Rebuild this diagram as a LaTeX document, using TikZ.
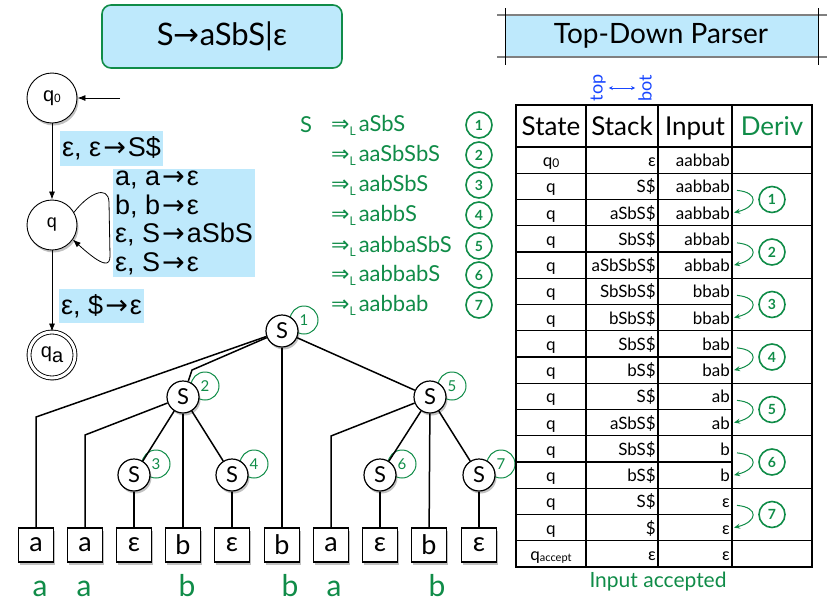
\documentclass[tikz,border=0pt]{standalone}
\usepackage{fontspec}
\setmainfont{Lato}
\newfontfamily\hel{Liberation Sans}
\newfontfamily\sym{DejaVu Sans}
\usetikzlibrary{arrows.meta,shadows}
\definecolor{grn}{RGB}{16,140,72}
\definecolor{lblue}{RGB}{190,233,252}
\definecolor{tblue}{RGB}{25,70,255}
\newcommand{\fs}[1]{\fontsize{#1}{#1}\selectfont}
\newcommand{\dL}{{\sym ⇒}\raisebox{-4pt}{\fs{12}L}\hspace{3pt}}
\newcommand{\qz}{q\raisebox{-1pt}{\fs{12}0}}
\newcommand{\qacc}{q\raisebox{-1pt}{\fs{11}accept}}
\newcommand{\ar}{\hspace{2pt}{\sym →}\hspace{2pt}}
\begin{document}
\begin{tikzpicture}[x=1pt,y=-1pt,
  every node/.style={inner sep=0pt},
  shad/.style={drop shadow={shadow xshift=1.5pt,shadow yshift=-2.5pt,opacity=0.35,fill=black!70}},
  pstate/.style={circle,draw,line width=0.9pt,fill=white,minimum size=50pt,shad,font=\hel\fs{20}},
  parr/.style={-{Latex[length=8pt,width=6pt]},line width=0.8pt},
  plabel/.style={fill=lblue,inner sep=2pt,font=\hel\fs{27},align=left},
  snode/.style={circle,draw,line width=1.2pt,fill=white,minimum size=32pt,shad,font=\fs{22}},
  leaf/.style={draw,line width=1.2pt,fill=white,minimum width=35pt,minimum height=34pt,shad,font=\fs{27}},
  tedge/.style={line width=1.5pt},
  tnum/.style={circle,draw=grn,line width=1pt,minimum size=28pt,text=grn,font=\fs{15}},
  dnum/.style={circle,draw=grn,line width=1.6pt,minimum size=26pt,text=grn,font=\bfseries\fs{14}},
  dline/.style={anchor=west,text=grn,font=\fs{22}},
  tline/.style={line width=1.4pt},
  tcell/.style={font=\fs{17}},
  thead/.style={anchor=base,font=\fs{26}},
  darr/.style={grn,line width=1pt,-{Stealth[length=6pt,width=5pt]}}
]
\useasboundingbox (0,0) rectangle (828,603);

% title
\node[draw=grn,fill=lblue,rounded corners=9pt,line width=1.6pt,minimum width=240pt,minimum height=63pt,font=\fs{31}] (title) at (222,36.5) {S{\sym →}aSbS|ε};

% Top-Down Parser banner
\fill[lblue] (505,15) rectangle (818,57);
\draw[gray,line width=1.5pt] (497,15) -- (827,15) (497,57) -- (827,57);
\draw[line width=1pt] (505,8) -- (505,65) (818,8) -- (818,65);
\node[font=\fs{28}] (tdp) at (661,36) {Top-Down Parser};

% top <-> bot
\node[rotate=90,text=tblue,font=\fs{18}] (top) at (598,88) {top};
\node[rotate=90,text=tblue,font=\fs{18}] (bot) at (645,88) {bot};
\draw[tblue,line width=0.8pt,{Stealth[length=4pt,width=4pt]}-{Stealth[length=4pt,width=4pt]}] ([xshift=3pt]top.south) -- ([xshift=-3pt]bot.north);

% PDA
\node[pstate] (q0) at (52,98) {\qz};
\node[pstate,font=\hel\fs{18}] (q) at (52,225) {q};
\node[pstate,double,double distance=3pt,minimum size=46pt] (qa) at (52,355) {q\raisebox{-5pt}{\fs{20}a}};
\coordinate (st) at (120,98);
\draw[parr] (st) -- (q0);
\draw[parr] (q0) -- (q);
\draw[parr] (q) -- (qa);
\draw[parr] (q.30) .. controls (88,194) and (108,184) .. (109,202) -- (110,256) .. controls (110,266) and (104,268) .. (q.-35);
\node[plabel,anchor=west,minimum height=35pt] (l1) at (60,148.5) {ε, ε\ar S\$};
\node[plabel,anchor=north west,font=\hel\fontsize{27}{28.5}\selectfont] (l2) at (113,169) {a, a\ar ε\\b, b\ar ε\\ε, S\ar aSbS\\ε, S\ar ε};
\node[plabel,anchor=west,minimum height=34pt] (l3) at (59,306) {ε, \$\ar ε};

% derivation list
\node[dline] (d0) at (300,125) {S};
\foreach \t/\y [count=\i] in {aSbS/125,aaSbSbS/155,aabSbS/185,aabbS/215,aabbaSbS/246,aabbabS/275,aabbab/305}{
  \node[dline] (d\i) at (331,\y) {\dL\t};
  \node[dnum] (dc\i) at (479,\y) {\i};
}

% parse tree: number circles first
\foreach \x/\y/\k in {304/320/1,205/386/2,452/386/5,156/464/3,254/464/4,402/464/6,501/464/7}
  \node[tnum] (tn\k) at (\x,\y) {\k};
\node[snode] (r) at (282,331) {S};
\node[snode] (s2) at (183,397) {S};
\node[snode] (s5) at (430,397) {S};
\node[snode] (s3) at (134,475) {S};
\node[snode] (s4) at (232,475) {S};
\node[snode] (s6) at (380,475) {S};
\node[snode] (s7) at (479,475) {S};
\foreach \x/\t [count=\i] in {36/a,85/a,134/ε,183/b,232/ε,282/b,331/a,380/ε,429/b,479/ε}
  \node[leaf] (lf\i) at (\x,545) {\t};
\coordinate (b1) at (36,417);
\coordinate (b2) at (85,435);
\coordinate (b3) at (192,370);
\coordinate (b4) at (331,436);
\draw[tedge] (r) -- (b1) -- (lf1);
\draw[tedge] (r) -- (b3) -- (s2);
\draw[tedge] (r) -- (lf6);
\draw[tedge] (r) -- (s5);
\draw[tedge] (s2) -- (b2) -- (lf2);
\draw[tedge] (s2) -- (s3);
\draw[tedge] (s2) -- (lf4);
\draw[tedge] (s2) -- (s4);
\draw[tedge] (s3) -- (lf3);
\draw[tedge] (s4) -- (lf5);
\draw[tedge] (s5) -- (b4) -- (lf7);
\draw[tedge] (s5) -- (s6);
\draw[tedge] (s5) -- (lf9);
\draw[tedge] (s5) -- (s7);
\draw[tedge] (s6) -- (lf8);
\draw[tedge] (s7) -- (lf10);
\foreach \x/\t [count=\i] in {40/a,84/a,187/b,290/b,334/a,437/b}
  \node[anchor=base,text=grn,font=\fs{30}] (g\i) at (\x,596) {\t};

% table
\draw[tline] (516,105) rectangle (812,567);
\foreach \x in {586,658,732} \draw[tline] (\x,105) -- (\x,567);
\foreach \i in {0,1,3,5,7,9,11,13,15} \draw[tline] (516,{147+26.25*\i}) -- (812,{147+26.25*\i});
\foreach \i in {2,4,6,8,10,12,14} \draw[tline] (516,{147+26.25*\i}) -- (732,{147+26.25*\i});
\node[thead] (hState) at (551,135) {State};
\node[thead] (hStack) at (622,135) {Stack};
\node[thead] (hInput) at (695,135) {Input};
\node[thead,text=grn] (hDeriv) at (772,135) {Deriv};
\foreach \st/\sk/\ip [count=\i from 0] in {\qz/ε/aabbab,q/S\$/aabbab,q/aSbS\$/aabbab,q/SbS\$/abbab,q/aSbSbS\$/abbab,q/SbSbS\$/bbab,q/bSbS\$/bbab,q/SbS\$/bab,q/bS\$/bab,q/S\$/ab,q/aSbS\$/ab,q/SbS\$/b,q/bS\$/b,q/S\$/ε,q/\$/ε,\qacc/ε/ε}{
  \node[tcell,anchor=base] (st\i) at (551,{147+26.25*(\i+0.5)+6.5}) {\st};
  \node[tcell,anchor=base east] (sk\i) at (656,{147+26.25*(\i+0.5)+6.5}) {\sk};
  \node[tcell,anchor=base east] (ip\i) at (730,{147+26.25*(\i+0.5)+6.5}) {\ip};
}
\foreach \k in {1,...,7}{
  \coordinate (as\k) at (737,{147+26.25*(2*\k-0.5)+4});
  \coordinate (ae\k) at (734,{147+26.25*(2*\k+0.5)});
  \draw[darr] (as\k) .. controls +(22,2) and +(24,-6) .. (ae\k);
  \node[dnum] (tc\k) at (772,{147+26.25*2*\k}) {\k};
}
\node[text=grn,font=\fs{21}] (acc) at (658,582) {Input accepted};
\end{tikzpicture}
\end{document}
